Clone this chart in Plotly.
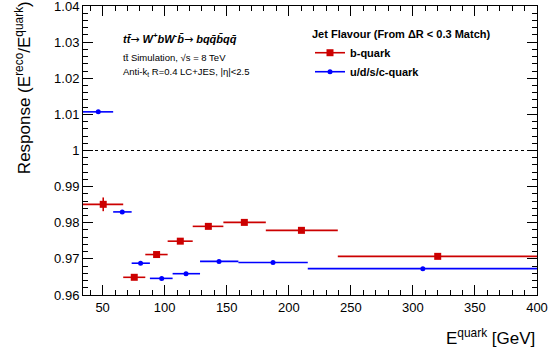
import plotly.graph_objects as go

# b-quark (red)
b_x = [50.5, 75.5, 93.5, 112.6, 135.2, 164.2, 210.2, 320.0]
b_xlo = [34.2, 66.6, 84.4, 102.4, 122.6, 147.3, 181.5, 239.5]
b_xhi = [66.6, 84.4, 102.4, 122.6, 147.3, 181.5, 239.5, 400.0]
b_y = [0.9851, 0.9649, 0.9712, 0.9749, 0.9790, 0.9801, 0.9779, 0.9707]
b_yerr = [0.0019, 0.0003, 0.0003, 0.0003, 0.0003, 0.0003, 0.0003, 0.0003]

# u/d/s/c-quark (blue)
l_x = [46.5, 65.8, 80.6, 97.6, 117.2, 143.8, 187.3, 308.0]
l_xlo = [34.2, 58.5, 73.4, 88.1, 106.4, 128.5, 159.4, 215.3]
l_xhi = [58.5, 73.4, 88.1, 106.4, 128.5, 159.4, 215.3, 400.0]
l_y = [1.0107, 0.9830, 0.9688, 0.9646, 0.9659, 0.9693, 0.9690, 0.9673]
l_yerr = [0.0002] * 8

x_ticks = [50, 100, 150, 200, 250, 300, 350, 400]
y_ticks = [0.96, 0.97, 0.98, 0.99, 1.0, 1.01, 1.02, 1.03, 1.04]

RED = "rgb(204,0,0)"
BLUE = "rgb(0,0,255)"
FONT = "Liberation Sans, Arial, Helvetica, sans-serif"

fig = go.Figure()

def add_series(x, xlo, xhi, y, yerr, color, symbol, size, name):
    fig.add_trace(go.Scatter(
        x=x, y=y, mode="markers", showlegend=False,
        marker=dict(color=color, symbol=symbol, size=size),
        error_x=dict(type="data", symmetric=False,
                     array=[h - c for h, c in zip(xhi, x)],
                     arrayminus=[c - l for l, c in zip(xlo, x)],
                     color=color, thickness=1.6, width=0),
        error_y=dict(type="data", array=yerr, color=color, thickness=1.6, width=0),
    ))
    fig.add_trace(go.Scatter(
        x=[None], y=[None], mode="lines+markers", name=f"<b>{name}</b>",
        line=dict(color=color, width=1.6),
        marker=dict(color=color, symbol=symbol, size=size),
    ))

add_series(b_x, b_xlo, b_xhi, b_y, b_yerr, RED, "square", 7, "b-quark")
add_series(l_x, l_xlo, l_xhi, l_y, l_yerr, BLUE, "circle", 5, "u/d/s/c-quark")

axis_common = dict(
    showline=True, linecolor="black", linewidth=1, mirror="allticks",
    ticks="inside", ticklen=10, tickcolor="black", tickwidth=1,
    showgrid=False, zeroline=False, automargin=False,
    ticklabeloverflow="allow",
    tickfont=dict(family=FONT, size=13, color="black"),
)

fig.update_xaxes(range=[34.2, 400.0001], tickvals=x_ticks,
                 minor=dict(dtick=10, ticks="inside", ticklen=5, tickcolor="black", showgrid=False),
                 **axis_common)
fig.update_yaxes(range=[0.9599999, 1.0400001], tickvals=y_ticks,
                 minor=dict(dtick=0.002, ticks="inside", ticklen=5, tickcolor="black", showgrid=False),
                 **axis_common)

fig.add_shape(type="line", xref="paper", yref="y", x0=0, x1=1, y0=1.0, y1=1.0,
              line=dict(color="black", width=1, dash="3px,3px"))

ARROW = '<span style="font-family:DejaVu Sans;font-weight:normal;font-style:normal">\u2192</span>'

annos = [
    dict(text="Response (E<sup>reco</sup>/E<sup>quark</sup>)", x=-0.132, y=0.716,
         xanchor="center", yanchor="middle", textangle=-90, font=dict(size=17)),
    dict(text="E<sup>quark</sup> [GeV]", x=1.0, y=-0.145, xanchor="right", yanchor="middle",
         font=dict(size=17)),
    dict(text="<b><i>tt\u0304</i></b>" + ARROW + "<b><i> W<sup>+</sup>bW<sup>-</sup>b\u0304</i></b>"
         + ARROW + "<b><i> bqq\u0304b\u0304qq\u0304</i></b>",
         x=0.084, y=0.888, xanchor="left", yanchor="middle", font=dict(size=11)),
    dict(text="tt\u0304 Simulation, \u221As = 8 TeV", x=0.084, y=0.822,
         xanchor="left", yanchor="middle", font=dict(size=9.5)),
    dict(text="Anti-k<sub>t</sub> R=0.4 LC+JES, |\u03b7|&lt;2.5", x=0.084, y=0.772,
         xanchor="left", yanchor="middle", font=dict(size=9.5)),
]
for a in annos:
    a.setdefault("xref", "paper")
    a.setdefault("yref", "paper")
    a["showarrow"] = False
    a["font"] = dict(family=FONT, color="black", **a["font"])
    fig.add_annotation(**a)

fig.update_layout(
    width=549, height=354,
    margin=dict(l=83, r=12, t=6, b=59, autoexpand=False),
    paper_bgcolor="white", plot_bgcolor="white",
    font=dict(family=FONT, color="black"),
    legend=dict(
        x=0.5, y=0.938, xanchor="left", yanchor="top",
        bgcolor="rgba(0,0,0,0)",
        font=dict(family=FONT, size=11, color="black"),
        title=dict(text="<b>Jet Flavour (From \u0394R &lt; 0.3 Match)</b>",
                   font=dict(family=FONT, size=11, color="black"), side="top"),
        itemwidth=30, tracegroupgap=0,
    ),
)

fig.write_html("out.html")
